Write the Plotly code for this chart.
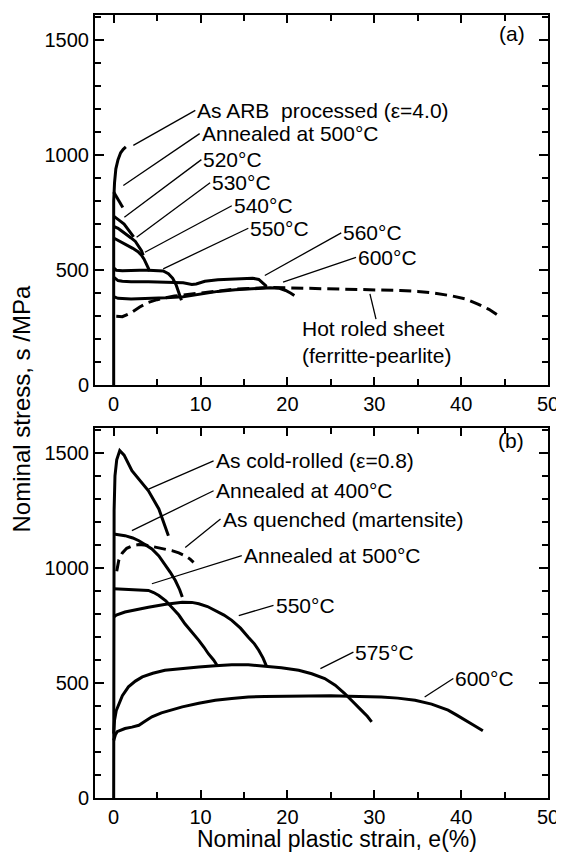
import plotly.graph_objects as go

# ---------------- Panel (a) data: ARB processed / annealed ----------------
a_arb_x = [0, 0, 0.1, 0.25, 0.5, 0.8, 1.1, 1.4]
a_arb_y = [0, 800, 880, 940, 980, 1010, 1025, 1035]

a_500_x = [0, 0.3, 0.6, 0.85, 1.05]
a_500_y = [840, 820, 800, 785, 772]

a_520_x = [0, 0.4, 0.8, 1.2, 1.6, 2.0, 2.3]
a_520_y = [735, 725, 712, 700, 680, 660, 645]

a_530_x = [0, 0.5, 1, 1.5, 2, 2.5, 2.9, 3.2, 3.4]
a_530_y = [690, 682, 668, 655, 640, 625, 605, 585, 565]

a_540_x = [0, 0.5, 1.0, 1.6, 2.2, 2.8, 3.2, 3.5, 3.8, 4.0, 4.1]
a_540_y = [640, 630, 620, 608, 595, 580, 565, 548, 528, 508, 495]

a_550_x = [0, 0.3, 1, 2, 3, 4, 5, 5.7, 6.3, 6.8, 7.2, 7.6, 7.8]
a_550_y = [510, 500, 498, 500, 500, 500, 500, 497, 485, 465, 435, 395, 370]

a_560_x = [0, 0.5, 1, 2, 4, 6, 8, 9, 9.5, 10.5, 12, 14, 16, 16.7, 17.2, 17.6]
a_560_y = [470, 455, 452, 450, 450, 448, 445, 438, 440, 452, 458, 462, 465, 460, 445, 430]

a_600_x = [0, 0.5, 2, 4, 6, 8, 10, 12, 14, 16, 18, 19, 19.8, 20.4, 20.8]
a_600_y = [385, 378, 375, 377, 380, 385, 398, 408, 415, 420, 424, 422, 412, 400, 390]

a_hot_x = [0.3, 1, 2, 3, 4, 5, 7, 10, 14, 18, 22, 26, 30, 33, 35, 37, 39, 40.5, 42, 43.2, 44.2]
a_hot_y = [300, 298, 315, 340, 360, 372, 388, 402, 418, 425, 422, 420, 416, 412, 408, 400, 388, 375, 352, 330, 305]

# ---------------- Panel (b) data: cold rolled / annealed ----------------
b_cr_x = [0, 0, 0.05, 0.15, 0.35, 0.7, 1.2, 2.1, 3, 4, 5.2, 6.3]
b_cr_y = [0, 900, 1250, 1400, 1470, 1510, 1490, 1422, 1380, 1335, 1256, 1140]

b_400_x = [0, 0.5, 1.3, 2.2, 2.9, 3.6, 4.4, 5.2, 5.9, 6.5, 7.1, 7.6, 7.9]
b_400_y = [1147, 1145, 1140, 1130, 1118, 1102, 1082, 1052, 1017, 982, 945, 905, 873]

b_q_x = [0.35, 0.6, 1, 1.5, 2.2, 2.9, 3.8, 4.8, 5.8, 6.7, 7.5, 8.2, 8.8, 9.2]
b_q_y = [985, 1035, 1065, 1085, 1097, 1101, 1098, 1090, 1083, 1075, 1065, 1053, 1038, 1024]

b_500_x = [0, 1, 2, 3, 4, 4.6, 5.2, 6, 6.7, 7.5, 8.2, 9, 9.8, 10.4, 10.9, 11.5, 11.9]
b_500_y = [909, 907, 906, 905, 902, 893, 880, 857, 829, 795, 757, 722, 685, 655, 627, 600, 577]

b_550_x = [0, 0.3, 1.3, 2.5, 4, 6, 7.9, 9, 9.8, 10.8, 11.7, 12.7, 13.6, 14.6, 15.5, 16.2, 16.7, 17.2, 17.6]
b_550_y = [786, 795, 808, 818, 829, 842, 851, 850, 844, 832, 815, 795, 772, 738, 699, 670, 642, 608, 572]

b_575_x = [0, 0.1, 0.3, 0.6, 1.0, 1.7, 2.5, 3.3, 4.5, 5.9, 7.8, 9.8, 11.7, 13.6, 15.5, 17.4, 19.3,
           21.3, 22.8, 24.3, 25.5, 26.6, 27.6, 28.5, 29.2, 29.7]
b_575_y = [280, 338, 380, 410, 445, 483, 508, 526, 542, 555, 563, 569, 575, 579, 579, 574, 566,
           555, 540, 519, 490, 454, 418, 382, 355, 331]

b_600_x = [0, 0.2, 0.4, 0.8, 1.3, 2.1, 2.9, 3.6, 4.4, 5.5, 6.5, 7.9, 9.8, 11.7, 13.6, 15.5, 17.4,
           19.3, 21.3, 23.2, 25, 27, 29, 30.8, 32.7, 34.7, 36.6, 38.5, 39.5, 40.4, 41.5, 42.5]
b_600_y = [250, 275, 288, 293, 302, 308, 316, 333, 353, 370, 382, 396, 412, 425, 432, 439, 441,
           442, 444, 445, 444, 442, 441, 439, 434, 425, 408, 382, 360, 338, 315, 292]

# ---------------- Axis ticks ----------------
x_tickvals = [0, 10, 20, 30, 40, 50]
x_ticktext = ["0", "10", "20", "30", "40", "50"]
y_tickvals = [0, 500, 1000, 1500]
y_ticktext = ["0", "500", "1000", "1500"]

# ---------------- Labels: text, text anchor (x, y), leader end (x, y) ----------------
a_labels = [
    ("As ARB  processed (\u03b5=4.0)", 9.4, 1194, 2.26, 1042),
    ("Annealed at 500\u00b0C", 9.9, 1093, 1.11, 868),
    ("520\u00b0C", 10.1, 980, 1.23, 730),
    ("530\u00b0C", 11.1, 880, 2.64, 643),
    ("540\u00b0C", 13.6, 780, 3.6, 578),
    ("550\u00b0C", 15.5, 682, 5.7, 506),
    ("560\u00b0C", 26.2, 662, 17.4, 477),
    ("600\u00b0C", 27.9, 556, 19.5, 448),
]
b_labels = [
    ("As cold-rolled (\u03b5=0.8)", 11.5, 1465, 4.02, 1342),
    ("Annealed at 400\u00b0C", 11.5, 1335, 2.1, 1162),
    ("As quenched (martensite)", 12.3, 1212, 8.24, 1089),
    ("Annealed at 500\u00b0C", 14.75, 1053, 4.4, 931),
    ("550\u00b0C", 18.4, 837, 14.4, 793),
    ("575\u00b0C", 27.6, 634, 23.8, 562),
    ("600\u00b0C", 39.1, 519, 35.8, 439),
]
hot_label = ("Hot roled sheet<br>(ferritte-pearlite)", 21.4, 187, 29.5, 397, 30.2, 288)

FONT = "Liberation Sans, Arial, sans-serif"
LW = 3
LABEL_SIZE = 21

fig = go.Figure()

def add_curve(x, y, xa, ya, dash="solid"):
    fig.add_trace(go.Scatter(x=x, y=y, mode="lines", xaxis=xa, yaxis=ya,
                             line=dict(color="black", width=LW, dash=dash),
                             hoverinfo="skip", showlegend=False))

# panel (a)
for xs, ys in [(a_arb_x, a_arb_y), (a_500_x, a_500_y), (a_520_x, a_520_y), (a_530_x, a_530_y),
               (a_540_x, a_540_y), (a_550_x, a_550_y), (a_560_x, a_560_y), (a_600_x, a_600_y)]:
    add_curve(xs, ys, "x", "y")
add_curve(a_hot_x, a_hot_y, "x", "y", dash="12px,6px")

# panel (b)
for xs, ys in [(b_cr_x, b_cr_y), (b_400_x, b_400_y), (b_500_x, b_500_y), (b_550_x, b_550_y),
               (b_575_x, b_575_y), (b_600_x, b_600_y)]:
    add_curve(xs, ys, "x2", "y2")
add_curve(b_q_x, b_q_y, "x2", "y2", dash="12px,6px")

annotations = []

def add_label(text, tx, ty, lx, ly, xa, ya, ltx=None, lty=None):
    ltx = tx if ltx is None else ltx
    lty = ty if lty is None else lty
    fig.add_trace(go.Scatter(x=[lx, ltx], y=[ly, lty], mode="lines", xaxis=xa, yaxis=ya,
                             line=dict(color="black", width=1.3),
                             hoverinfo="skip", showlegend=False))
    annotations.append(dict(text=text, x=tx, y=ty, xref=xa, yref=ya, xanchor="left",
                            yanchor="middle", showarrow=False, align="left",
                            font=dict(family=FONT, size=LABEL_SIZE, color="black")))

for t, tx, ty, lx, ly in a_labels:
    add_label(t, tx, ty, lx, ly, "x", "y")
for t, tx, ty, lx, ly in b_labels:
    add_label(t, tx, ty, lx, ly, "x2", "y2")

ht, htx, hty, hlx0, hly0, hlx1, hly1 = hot_label
add_label(ht, htx, hty, hlx0, hly0, "x", "y", ltx=hlx1, lty=hly1)

annotations.append(dict(text="(a)", x=45.9, y=1527, xref="x", yref="y", showarrow=False,
                        font=dict(family=FONT, size=LABEL_SIZE, color="black")))
annotations.append(dict(text="(b)", x=45.7, y=1552, xref="x2", yref="y2", showarrow=False,
                        font=dict(family=FONT, size=LABEL_SIZE, color="black")))
annotations.append(dict(text="Nominal stress, s /MPa", x=-0.162, y=0.497, xref="paper", yref="paper",
                        textangle=-90, showarrow=False, xanchor="center", yanchor="middle",
                        font=dict(family=FONT, size=24, color="black")))
annotations.append(dict(text="Nominal plastic strain, e(%)", x=0.534, y=-0.052, xref="paper",
                        yref="paper", showarrow=False, xanchor="center", yanchor="middle",
                        font=dict(family=FONT, size=23, color="black")))

xaxis_common = dict(range=[-2.15, 50], tickvals=x_tickvals, ticktext=x_ticktext,
                    ticks="inside", ticklen=8, tickwidth=1.5, tickcolor="black",
                    minor=dict(dtick=5, tick0=0, ticks="inside", ticklen=6, tickwidth=1.5,
                               tickcolor="black"),
                    showline=True, linewidth=2, linecolor="black", mirror="ticks",
                    showgrid=False, zeroline=False,
                    tickfont=dict(family=FONT, size=20, color="black"))
yaxis_common = dict(range=[0, 1608], tickvals=y_tickvals, ticktext=y_ticktext,
                    ticks="inside", ticklen=9, tickwidth=1.5, tickcolor="black",
                    minor=dict(dtick=100, tick0=0, ticks="inside", ticklen=6, tickwidth=1.5,
                               tickcolor="black"),
                    showline=True, linewidth=2, linecolor="black", mirror="ticks",
                    showgrid=False, zeroline=False,
                    tickfont=dict(family=FONT, size=20, color="black"))

# The page body has an 8px default margin, so the figure is sized to fit the window after it.
fig.update_layout(
    width=556, height=846,
    margin=dict(l=87, r=16, t=5, b=56),
    paper_bgcolor="white", plot_bgcolor="white",
    showlegend=False,
    xaxis=dict(domain=[0, 1], anchor="y", **xaxis_common),
    yaxis=dict(domain=[0.527, 1.0], anchor="x", **yaxis_common),
    xaxis2=dict(domain=[0, 1], anchor="y2", **xaxis_common),
    yaxis2=dict(domain=[0, 0.4726], anchor="x2", **yaxis_common),
    annotations=annotations,
)

fig.write_html("out.html")
